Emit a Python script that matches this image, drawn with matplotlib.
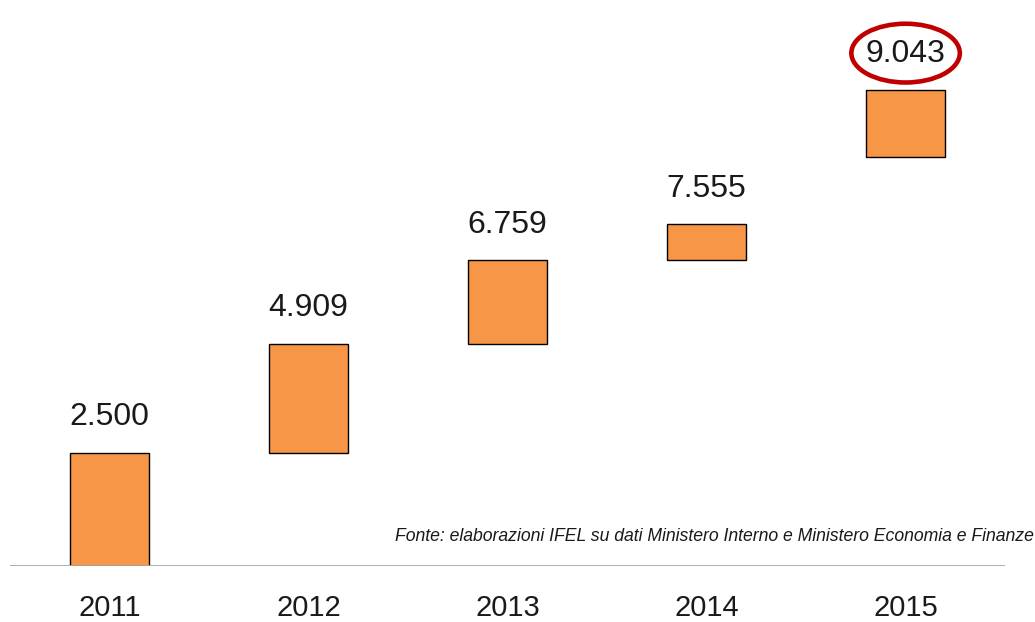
import matplotlib
matplotlib.use("Agg")
import matplotlib.pyplot as plt
from matplotlib.patches import Ellipse
from matplotlib.transforms import offset_copy

# waterfall data (bottom of each block, block height = yearly increment)
years = ["2011", "2012", "2013", "2014", "2015"]
totals = [2500, 4909, 6759, 7555, 9043]
bottoms = [0, 2500, 4909, 6759, 9043]
heights = [2500, 2409, 1850, 796, 1488]
source = "Fonte: elaborazioni IFEL su dati Ministero Interno e Ministero Economia e Finanze"

plt.rcParams['font.family'] = ['Liberation Sans', 'DejaVu Sans']

fig = plt.figure(figsize=(10.35, 6.22), dpi=100)
ax = fig.add_axes([0.0097, 0.09, 0.9614, 0.91])

x = range(len(years))
ax.bar(x, heights, bottom=bottoms, width=0.4, color="#F79646",
       edgecolor="black", linewidth=1.0, zorder=2)

for i, (b, h, t) in enumerate(zip(bottoms, heights, totals)):
    label = f"{t:,}".replace(",", ".")
    ax.annotate(label, (i, b + h), xytext=(0, 20), textcoords="offset points",
                ha="center", va="baseline", fontsize=23, color="#1a1a1a")

# red ring round the last total
last = len(years) - 1
ring_tr = offset_copy(ax.transData, fig=fig, x=0, y=26.5, units="points")
ax.add_patch(Ellipse((last, bottoms[last] + heights[last]), width=0.545, height=1300,
                     transform=ring_tr, fill=False, ec="#C00000", lw=3.3, zorder=4,
                     clip_on=False))

ax.axhline(0, color="#A6A6A6", lw=2, zorder=3)
ax.set_xlim(-0.5, 4.5)
ax.set_ylim(0, 12520)
ax.set_xticks(list(x))
ax.set_xticklabels(years, fontsize=21, color="#1a1a1a")
ax.tick_params(axis="x", length=0, pad=20)
ax.set_yticks([])
for s in ax.spines.values():
    s.set_visible(False)

fig.text(0.999, 0.137, source, ha="right", va="center", fontsize=12.7,
         style="italic", color="#1a1a1a")

fig.savefig("out.png", dpi=100)
